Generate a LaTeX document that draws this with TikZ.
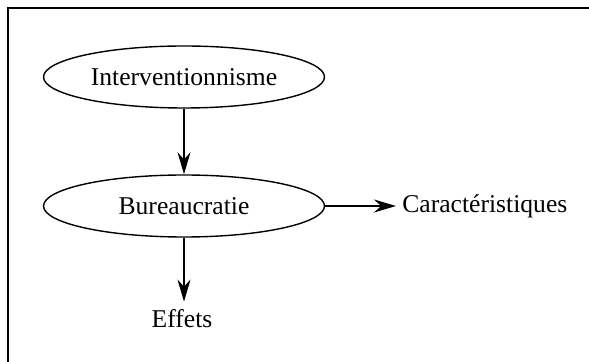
\documentclass[tikz,border=0pt]{standalone}
\usepackage{fontspec}
\setmainfont{Liberation Serif}
\usetikzlibrary{shapes.geometric,arrows.meta}
\tikzset{
  ell/.style={draw, ellipse, line width=0.7pt, minimum width=140.5pt, minimum height=31pt, inner sep=0pt, font=\fontsize{12.8}{14}\selectfont},
  lbl/.style={inner sep=3pt, font=\fontsize{12.8}{14}\selectfont},
  arr/.style={line width=0.7pt, -{Stealth[length=11pt,width=6.5pt]}},
  frame/.style={line width=1pt}
}
\begin{document}
\begin{tikzpicture}[x=0.5pt,y=-0.5pt]
\useasboundingbox (0,0) rectangle (589,362);
\coordinate (tr) at (589,8);
\coordinate (tl) at (8,8);
\coordinate (bl) at (8,362);
\draw[frame] (tr) -- (tl) -- (bl);
\node[ell] (a) at (184,77) {Interventionnisme};
\node[ell] (b) at (184,206) {Bureaucratie};
\node[lbl, anchor=base west] (c) at (396,213) {Caractéristiques};
\node[lbl, anchor=base, inner sep=4pt] (e) at (182,328) {Effets};
\draw[arr] (a.south) -- (b.north);
\draw[arr] (b.south) -- (b.south |- e.north);
\draw[arr] (b.east) -- (b.east -| c.west);
\end{tikzpicture}
\end{document}
